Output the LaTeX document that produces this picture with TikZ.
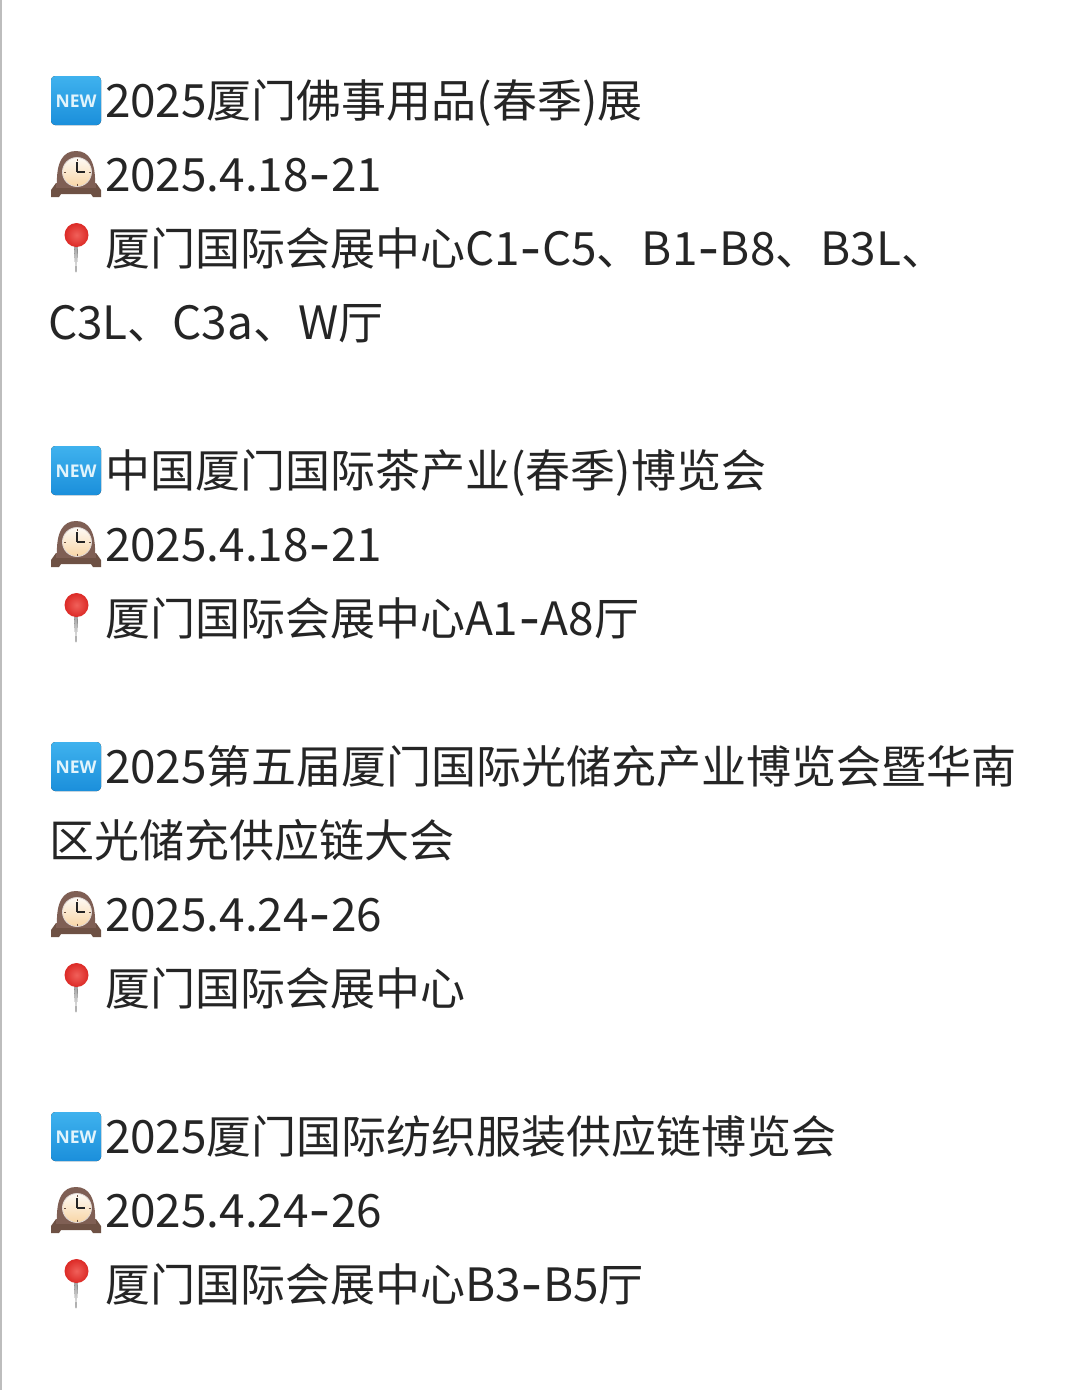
\documentclass[tikz,border=0pt]{standalone}
\usepackage{fontspec}
\setmainfont{Noto Sans CJK SC}
\newfontfamily\latinrun[Scale=1.02]{Noto Sans CJK SC}
\newfontfamily\iconfont{Open Sans}
\newcommand{\lr}[1]{{\latinrun #1}}
\newcommand{\hy}{\kern0.8pt{\fontsize{60}{50}\selectfont\raisebox{-3pt}{-}}\kern0.8pt}
\definecolor{ink}{HTML}{252525}
\definecolor{rail}{HTML}{BDBDBD}
\definecolor{newtop}{HTML}{3FB2EE}
\definecolor{newbot}{HTML}{1B8FDB}
\definecolor{woodt}{HTML}{7F5F54}
\definecolor{woodb}{HTML}{6E5144}
\definecolor{facec}{HTML}{F7DFB8}
\definecolor{pinhi}{HTML}{F0605A}
\definecolor{pinred}{HTML}{DC2A26}
\tikzset{
  x=1pt,y=-1pt,
  line/.style={anchor=base west,inner sep=0pt,outer sep=0pt,text=ink,font=\fontsize{45}{50}\selectfont},
  pics/newicon/.style={code={
    \fill[top color=newtop,bottom color=newbot,rounded corners=4pt] (0,-25) rectangle (50,24);
    \node[inner sep=0pt,text=white!85!newtop,font=\iconfont\bfseries\fontsize{17.5}{18}\selectfont] at (25,0) {NEW};
  }},
  pics/clockicon/.style={code={
    \fill[woodt] (-19,12) .. controls (-20,-12) and (-13,-23) .. (0,-23) .. controls (13,-23) and (20,-12) .. (19,12) -- cycle;
    \fill[woodb] (-25,23) -- (-25,16) -- (-20,9) -- (20,9) -- (25,16) -- (25,23) -- (17,23) -- (15,20) -- (-15,20) -- (-17,23) -- cycle;
    \fill[woodt] (-20,9) rectangle (20,14);
    \shade[top color=white!85!facec,bottom color=facec!90!orange,draw=white!75!woodt,line width=.8pt] (1,-2) circle (14.5);
    \draw[ink,line width=1.2pt] (1,-2) -- (1,-12) (1,-2) -- (9,-2);
    \foreach \a in {0,90,180,270}{\draw[woodb,line width=.8pt] (1,-2) ++(\a:11.5) -- ++(\a:2);}
  }},
  pics/pinicon/.style={code={
    \fill[top color=gray!75,bottom color=white!85!gray] (-2,-4) -- (2,-4) -- (0.4,23) -- (-0.4,23) -- cycle;
    \shade[inner color=pinhi,outer color=pinred] (0.5,-14) circle (12);
  }}
}
\begin{document}
\begin{tikzpicture}
\useasboundingbox (0,0) rectangle (1080,1390);
\fill[white] (0,0) rectangle (1080,1390);
\fill[rail] (0,0) rectangle (1.5,1390);
\pic at (51,101) {newicon};
\pic at (76,174) {clockicon};
\pic at (76,249) {pinicon};
\node[line] (a1) at (105,117) {\lr{2025}厦门佛事用品\lr{(}春季\lr{)}展};
\node[line] (a2) at (105,191) {\lr{2025.4.18}\hy\lr{21}};
\node[line] (a3) at (105,265) {厦门国际会展中心\lr{C1}\hy\lr{C5}、\lr{B1}\hy\lr{B8}、\lr{B3L}、};
\node[line] (a4) at (48,339) {\lr{C3L}、\lr{C3a}、\lr{W}厅};
\pic at (51,471) {newicon};
\pic at (76,544) {clockicon};
\pic at (76,619) {pinicon};
\node[line] (b1) at (105,487) {中国厦门国际茶产业\lr{(}春季\lr{)}博览会};
\node[line] (b2) at (105,561) {\lr{2025.4.18}\hy\lr{21}};
\node[line] (b3) at (105,635) {厦门国际会展中心\lr{A1}\hy\lr{A8}厅};
\pic at (51,767) {newicon};
\pic at (76,914) {clockicon};
\pic at (76,989) {pinicon};
\node[line] (c1) at (105,783) {\lr{2025}第五届厦门国际光储充产业博览会暨华南};
\node[line] (c2) at (49,857) {区光储充供应链大会};
\node[line] (c3) at (105,931) {\lr{2025.4.24}\hy\lr{26}};
\node[line] (c4) at (105,1005) {厦门国际会展中心};
\pic at (51,1137) {newicon};
\pic at (76,1210) {clockicon};
\pic at (76,1285) {pinicon};
\node[line] (d1) at (105,1153) {\lr{2025}厦门国际纺织服装供应链博览会};
\node[line] (d2) at (105,1227) {\lr{2025.4.24}\hy\lr{26}};
\node[line] (d3) at (105,1301) {厦门国际会展中心\lr{B3}\hy\lr{B5}厅};
\end{tikzpicture}
\end{document}
